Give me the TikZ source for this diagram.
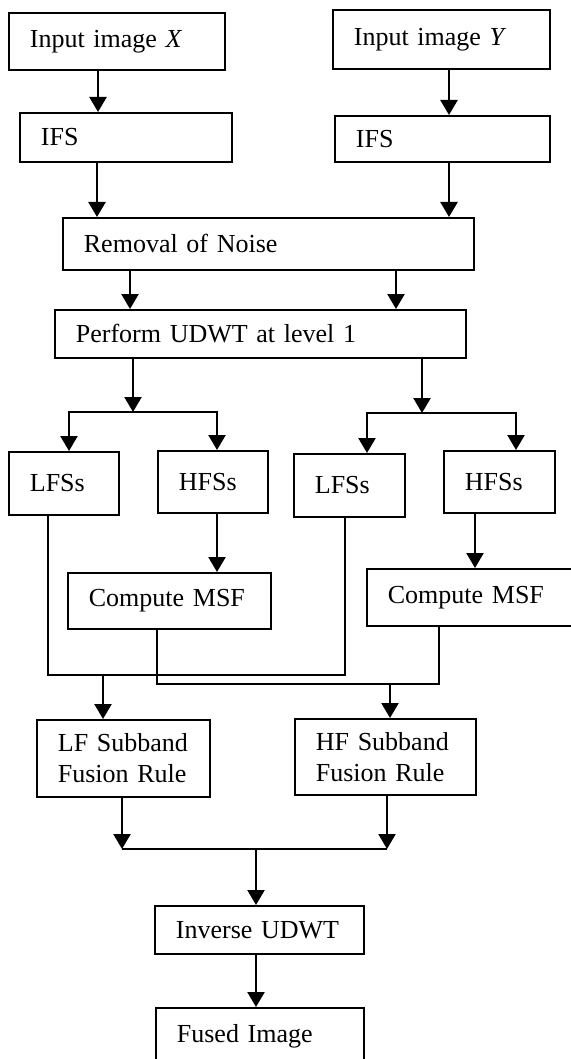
\documentclass[tikz,border=0pt]{standalone}
\usepackage{fontspec}
\setmainfont{Liberation Serif}
\usetikzlibrary{arrows.meta, positioning}

\begin{document}
\begin{tikzpicture}[x=0.5pt, y=-0.5pt,
  blk/.style={draw, line width=0.9pt, anchor=north west, align=left,
    inner xsep=10.5pt, inner ysep=0pt, font=\fontsize{13}{15.5}\selectfont},
  arr/.style={line width=1.2pt, -{Triangle[length=7.5pt, width=8.5pt]}},
  lnk/.style={line width=0.8pt}]
  \useasboundingbox (0,0) rectangle (571,1059);

  % input branch
  \node[blk, text width=87pt, minimum height=28.5pt] (inX) at (8,12) {Input image \textit{X}};
  \node[blk, text width=87.5pt, minimum height=29.5pt] (inY) at (332,9) {Input image \textit{Y}};
  \node[blk, text width=85pt, minimum height=24.5pt] (ifsX) at (19,112) {IFS};
  \node[blk, text width=86.5pt, minimum height=23pt] (ifsY) at (334,115) {IFS};
  \node[blk, text width=184.5pt, minimum height=26pt] (noise) at (62,217) {Removal of Noise};
  \node[blk, text width=184.5pt, minimum height=24pt] (udwt) at (54,309) {Perform UDWT at level 1};

  % subbands
  \node[blk, text width=34pt, minimum height=31.5pt] (lfsX) at (8,451) {LFSs};
  \node[blk, text width=34pt, minimum height=31pt] (hfsX) at (157,450) {HFSs};
  \node[blk, text width=34.5pt, minimum height=31.5pt] (lfsY) at (293,453) {LFSs};
  \node[blk, text width=34.5pt, minimum height=31pt] (hfsY) at (443,450) {HFSs};
  \node[blk, text width=80.5pt, minimum height=28pt] (msfX) at (67,572) {Compute MSF};
  \node[blk, text width=84pt, minimum height=28.5pt] (msfY) at (366,568) {Compute MSF};

  % fusion
  \node[blk, text width=65.5pt, minimum height=38.5pt] (lfRule) at (36,719) {LF Subband\\Fusion Rule};
  \node[blk, text width=69.5pt, minimum height=38pt] (hfRule) at (294,718) {HF Subband\\Fusion Rule};
  \node[blk, text width=83.5pt, minimum height=24pt] (inv) at (154,905) {Inverse UDWT};
  \node[blk, text width=83pt, minimum height=28pt] (fused) at (155,1007) {Fused Image};

  % connectors
  \draw[arr] (inX.south -| 98,0) -- (ifsX.north -| 98,0);
  \draw[arr] (inY.south -| 449,0) -- (ifsY.north -| 449,0);
  \draw[arr] (ifsX.south -| 97,0) -- (noise.north -| 97,0);
  \draw[arr] (ifsY.south -| 449,0) -- (noise.north -| 449,0);
  \draw[arr] (noise.south -| 130,0) -- (udwt.north -| 130,0);
  \draw[arr] (noise.south -| 396,0) -- (udwt.north -| 396,0);

  \coordinate (sL) at (133,412);
  \coordinate (sR) at (422,413);
  \draw[arr] (udwt.south -| sL) -- (sL);
  \draw[arr] (udwt.south -| sR) -- (sR);
  \draw[arr] (sL) -| (lfsX.north -| 69,0);
  \draw[arr] (sL) -| (hfsX.north -| 217,0);
  \draw[arr] (sR) -| (lfsY.north -| 367,0);
  \draw[arr] (sR) -| (hfsY.north -| 516,0);

  \draw[arr] (hfsX.south -| 217,0) -- (msfX.north -| 217,0);
  \draw[arr] (hfsY.south -| 475,0) -- (msfY.north -| 475,0);

  \coordinate (jL) at (103,675);
  \coordinate (jR) at (390,684);
  \draw[lnk] (lfsX.south -| 48,0) |- (jL) -| (lfsY.south -| 345,0);
  \draw[lnk] (msfX.south -| 157,0) |- (jR) -| (msfY.south -| 439,0);
  \draw[arr] (jL) -- (lfRule.north -| jL);
  \draw[arr] (jR) -- (hfRule.north -| jR);

  \coordinate (jM) at (256,849);
  \draw[arr] (lfRule.south -| 122,0) -- (jM -| 122,0);
  \draw[arr] (hfRule.south -| 387,0) -- (jM -| 387,0);
  \draw[lnk] (jM -| 122,0) -- (jM -| 387,0);
  \draw[arr] (jM) -- (inv.north -| jM);
  \draw[arr] (inv.south -| jM) -- (fused.north -| jM);
\end{tikzpicture}
\end{document}
